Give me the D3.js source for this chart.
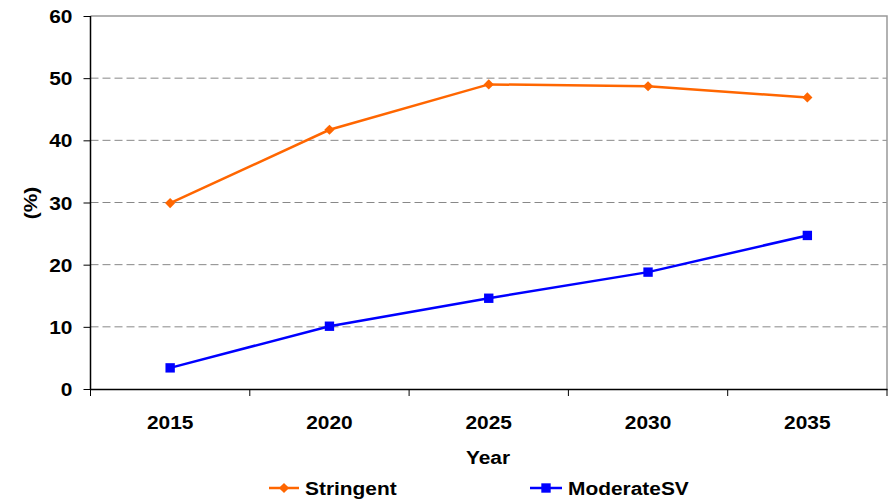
<!DOCTYPE html>
<html><head><meta charset="utf-8">
<script src="https://cdn.jsdelivr.net/npm/d3@7"></script>
<style>body{margin:0;background:#fff}svg{display:block}text{font-family:"Liberation Sans",Arial,sans-serif;font-weight:bold;fill:#000}</style>
</head><body>
<script>
const years = ["2015","2020","2025","2030","2035"];
const stringent = [29.9, 41.7, 49.0, 48.7, 46.9];
const moderateSV = [3.4, 10.1, 14.6, 18.8, 24.7];
const yTicks = [0,10,20,30,40,50,60];
const seriesNames = ["Stringent","ModerateSV"];
const seriesColors = ["#ff6600","#0000ff"];

const W=892,H=502,SX=1.1,FS="19px";
const svg=d3.select("body").append("svg").attr("width",W).attr("height",H);
const L=90.5,R=887,T=16,B=389;
const x=d3.scaleBand().domain(years).range([L,R]);
const y=d3.scaleLinear().domain([0,60]).range([B,T]);

function stretch(sel){
  sel.each(function(){
    const t=d3.select(this);
    const tx=+t.attr("x")||0, ty=+t.attr("y")||0;
    t.attr("x",0).attr("y",0).attr("transform",`translate(${tx},${ty}) scale(${SX},1)`);
  });
}

// grid
svg.append("g").selectAll("line").data(yTicks.filter(d=>d>0&&d<60)).join("line")
  .attr("x1",L).attr("x2",R).attr("y1",d=>y(d)).attr("y2",d=>y(d))
  .attr("stroke","#888").attr("stroke-width",1).attr("stroke-dasharray","8,4");
svg.append("path").attr("d",`M${L},${y(60)}H${R}V${B}`).attr("fill","none").attr("stroke","#999").attr("stroke-width",1.5);

// y axis
const ya=svg.append("g").attr("transform",`translate(${L},0)`).call(d3.axisLeft(y).tickValues(yTicks).tickSize(7).tickPadding(11));
ya.select(".domain").attr("stroke","#000").attr("stroke-width",1.5).attr("d",`M0,${y(60)}V${B}`);
ya.selectAll(".tick line").attr("stroke","#000");
ya.selectAll("text").style("font-size",FS).attr("dy","0.35em").call(stretch);

// x axis
const xa=svg.append("g").attr("transform",`translate(0,${B})`).call(d3.axisBottom(x).tickSize(0));
xa.select(".domain").attr("stroke","#000").attr("stroke-width",1.5);
xa.selectAll("text").style("font-size",FS).attr("y",33).attr("dy","0.35em").call(stretch);
const bounds=[...years.map(d=>x(d)),R];
xa.selectAll(".bt").data(bounds).join("line").attr("class","bt")
  .attr("x1",d=>d).attr("x2",d=>d).attr("y1",0).attr("y2",7).attr("stroke","#000").attr("stroke-width",1);

const cx=d=>x(d)+x.bandwidth()/2;
const line=d3.line().x((d,i)=>cx(years[i])).y(d=>y(d));
const data=[stringent,moderateSV];
const markerPath=k=>d3.symbol().type(d3.symbolSquare).size(k===0?52:88)();
data.forEach((s,k)=>{
  svg.append("path").datum(s).attr("d",line).attr("fill","none").attr("stroke",seriesColors[k]).attr("stroke-width",2.5);
  svg.append("g").selectAll("path").data(s).join("path")
    .attr("d",markerPath(k))
    .attr("transform",(d,i)=>`translate(${cx(years[i])},${y(d)})`+(k===0?" rotate(45)":""))
    .attr("fill",seriesColors[k]);
});

// axis titles
svg.append("text").attr("x",488).attr("y",457).attr("dy","0.35em").attr("text-anchor","middle").style("font-size",FS).text("Year").call(stretch);
svg.append("text").attr("transform",`translate(30,203) rotate(-90) scale(${SX},1)`).attr("dy","0.35em").attr("text-anchor","middle").style("font-size",FS).text("(%)");

// legend
const leg=[{x:269,w:30},{x:530,w:32}];
seriesNames.forEach((n,k)=>{
  const g=svg.append("g");
  g.append("line").attr("x1",leg[k].x).attr("x2",leg[k].x+leg[k].w).attr("y1",488).attr("y2",488).attr("stroke",seriesColors[k]).attr("stroke-width",2.5);
  g.append("path").attr("d",markerPath(k))
    .attr("transform",`translate(${leg[k].x+leg[k].w/2},488)`+(k===0?" rotate(45)":"")).attr("fill",seriesColors[k]);
  g.append("text").attr("x",leg[k].x+leg[k].w+6).attr("y",488).attr("dy","0.35em").style("font-size",FS).text(n).call(stretch);
});
</script>
</body></html>
